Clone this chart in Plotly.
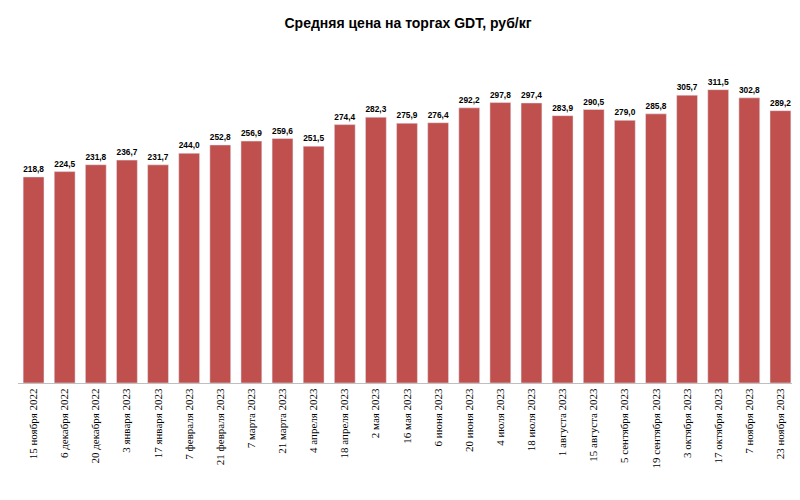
import plotly.graph_objects as go

dates = ["15 ноября 2022","6 декабря 2022","20 декабря 2022","3 января 2023","17 января 2023",
 "7 февраля 2023","21 февраля 2023","7 марта 2023","21 марта 2023","4 апреля 2023",
 "18 апреля 2023","2 мая 2023","16 мая 2023","6 июня 2023","20 июня 2023","4 июля 2023",
 "18 июля 2023","1 августа 2023","15 августа 2023","5 сентября 2023","19 сентября 2023",
 "3 октября 2023","17 октября 2023","7 ноября 2023","23 ноября 2023"]
prices = [218.8,224.5,231.8,236.7,231.7,244.0,252.8,256.9,259.6,251.5,274.4,282.3,275.9,
 276.4,292.2,297.8,297.4,283.9,290.5,279.0,285.8,305.7,311.5,302.8,289.2]

labels = [f"<b>{v:.1f}</b>".replace(".", ",") for v in prices]

fig = go.Figure(go.Bar(x=dates, y=prices, text=labels, textposition="outside",
    marker_color="#C0504D", textfont=dict(size=9, color="#000", family="Liberation Sans Narrow, Arial"),
    cliponaxis=False))
fig.update_layout(
    width=800, height=500, plot_bgcolor="white", paper_bgcolor="white",
    margin=dict(l=10, r=12, t=36, b=125),
    title=dict(text="<b>Средняя цена на торгах GDT, руб/кг</b>", x=0.5, y=0.98, yanchor="top", xanchor="center",
               font=dict(size=14, color="#000", family="Liberation Sans Narrow, Arial")),
    bargap=0.33, showlegend=False,
    xaxis=dict(tickangle=-90, tickfont=dict(size=11, color="#000", family="Liberation Serif, Times New Roman"),
               showline=True, linecolor="#BFBFBF", ticks="", automargin=False),
    yaxis=dict(range=[0, 360], visible=False),
)
fig.write_html("out.html")
